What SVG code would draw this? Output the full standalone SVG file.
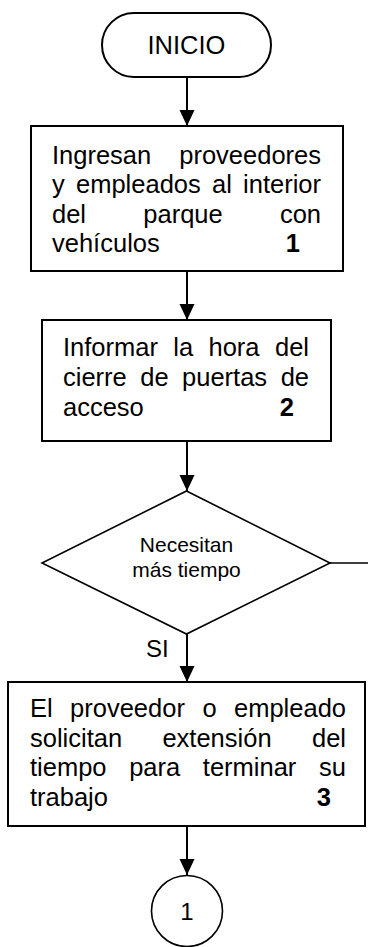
<svg xmlns="http://www.w3.org/2000/svg" width="368" height="947" viewBox="0 0 368 947">
<style>
.shape{fill:#fff;stroke:#000;stroke-width:2}
.thin{fill:#fff;stroke:#000;stroke-width:1.6}
.conn{fill:none;stroke:#000;stroke-width:2}
text{font-family:"Liberation Sans",Arial,sans-serif;fill:#000}
.t{font-size:25.5px}
.s{font-size:21px}
.b{font-size:25.5px;font-weight:bold}
.m{text-anchor:middle}
.e{text-anchor:end}
</style>
<defs>
<marker id="ah" markerUnits="userSpaceOnUse" markerWidth="16" markerHeight="16" refX="16" refY="7.5" orient="auto">
<path d="M0,0 L16,7.5 L0,15 z" fill="#000"/>
</marker>
</defs>
<g id="connectors">
<line class="conn" x1="187" y1="77" x2="187" y2="126" marker-end="url(#ah)"/>
<line class="conn" x1="187" y1="271" x2="187" y2="320" marker-end="url(#ah)"/>
<line class="conn" x1="187" y1="441" x2="187" y2="491" marker-end="url(#ah)"/>
<line class="conn" x1="187" y1="634" x2="187" y2="682" marker-end="url(#ah)"/>
<line class="conn" x1="187" y1="826" x2="187" y2="875" marker-end="url(#ah)"/>
<line class="conn" x1="330" y1="563" x2="368" y2="563" style="stroke-width:1.6"/>
<text class="t" x="146" y="657" style="font-size:24px">SI</text>
</g>
<g id="inicio">
<rect class="shape" x="102" y="13" width="169" height="64" rx="32" ry="32"/>
<text class="t m" x="186.5" y="54">INICIO</text>
</g>
<g id="paso1">
<rect class="shape" x="31" y="126" width="312" height="145"/>
<text class="t" x="52" y="163.5">Ingresan</text>
<text class="t e" x="321" y="163.5">proveedores</text>
<text class="t" x="52" y="193">y</text>
<text class="t m" x="138.4" y="193">empleados</text>
<text class="t m" x="221.9" y="193">al</text>
<text class="t e" x="321" y="193">interior</text>
<text class="t" x="52" y="222.5">del</text>
<text class="t m" x="183" y="222.5">parque</text>
<text class="t e" x="321" y="222.5">con</text>
<text class="t" x="52" y="252">vehículos</text>
<text class="b e" x="300" y="252">1</text>
</g>
<g id="paso2">
<rect class="shape" x="42" y="320" width="289" height="121"/>
<text class="t" x="63" y="355.5">Informar</text>
<text class="t m" x="183.3" y="355.5">la</text>
<text class="t m" x="234" y="355.5">hora</text>
<text class="t e" x="309" y="355.5">del</text>
<text class="t" x="63" y="385.5">cierre</text>
<text class="t m" x="154.4" y="385.5">de</text>
<text class="t m" x="224.6" y="385.5">puertas</text>
<text class="t e" x="309" y="385.5">de</text>
<text class="t" x="63" y="415.5">acceso</text>
<text class="b e" x="294" y="415.5">2</text>
</g>
<g id="decision">
<polygon class="thin" points="186.5,491 330,563 186.5,634 42,563"/>
<text class="s m" x="186.5" y="552">Necesitan</text>
<text class="s m" x="186.5" y="577">más tiempo</text>
</g>
<g id="paso3">
<rect class="shape" x="8" y="682" width="357" height="144"/>
<text class="t" x="30" y="717">El</text>
<text class="t m" x="127.5" y="717">proveedor</text>
<text class="t m" x="209.5" y="717">o</text>
<text class="t e" x="346" y="717">empleado</text>
<text class="t" x="30" y="746.5">solicitan</text>
<text class="t m" x="217" y="746.5">extensión</text>
<text class="t e" x="346" y="746.5">del</text>
<text class="t" x="30" y="776">tiempo</text>
<text class="t m" x="154.7" y="776">para</text>
<text class="t m" x="249.6" y="776">terminar</text>
<text class="t e" x="346" y="776">su</text>
<text class="t" x="30" y="805.5">trabajo</text>
<text class="b e" x="331" y="805.5">3</text>
</g>
<g id="conector1">
<circle class="thin" cx="187" cy="911" r="35.5"/>
<text class="t m" x="187" y="919.5" style="font-size:24px">1</text>
</g>
</svg>
